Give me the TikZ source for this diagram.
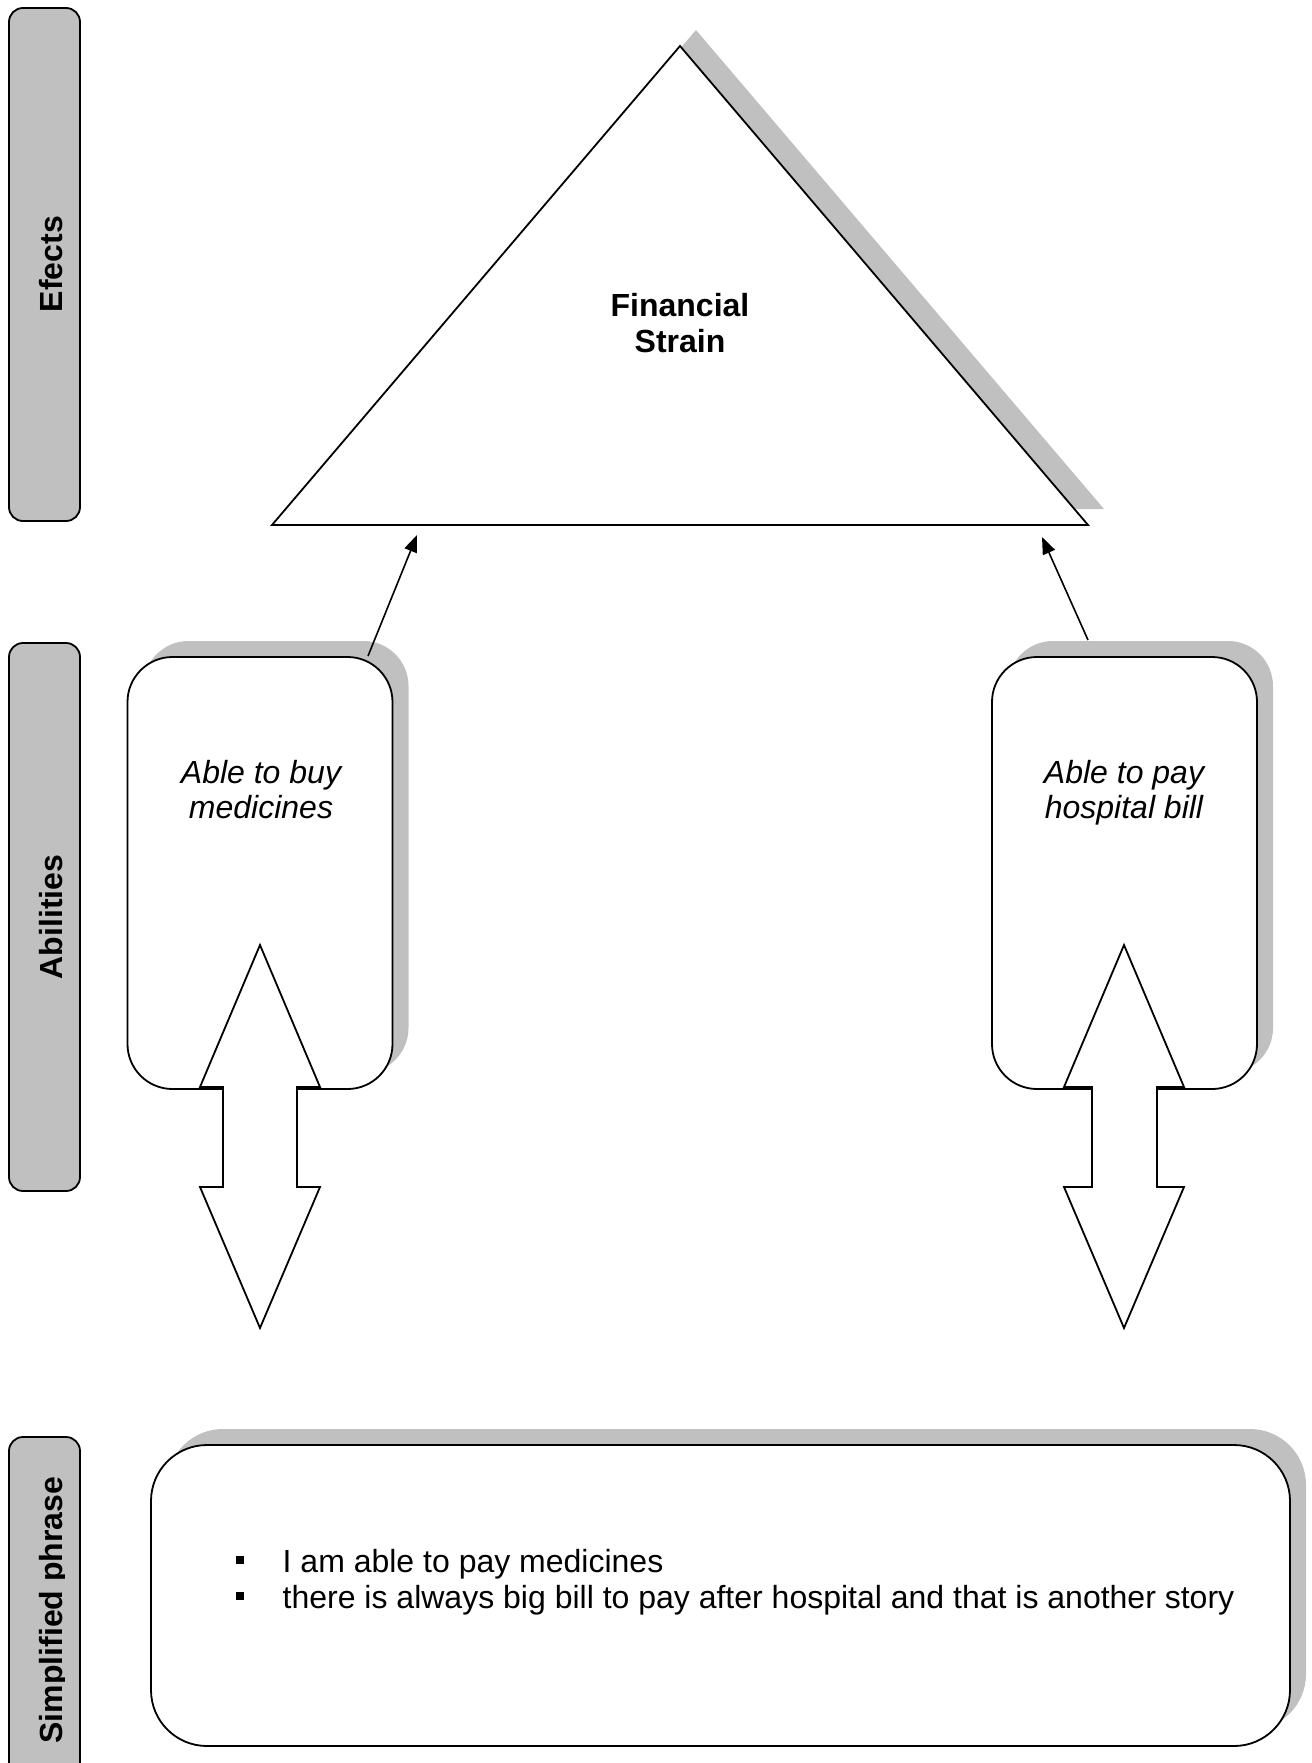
\documentclass[tikz,border=0pt]{standalone}
\usepackage{fontspec}
\setmainfont{Liberation Sans}
\usetikzlibrary{arrows.meta,shadows}
\definecolor{panelgray}{HTML}{C0C0C0}
\newcommand\listbullet{\rule[8.5bp]{8bp}{8bp}\hspace{39bp}}
\begin{document}
\begin{tikzpicture}[x=1bp,y=-1bp,
  outline/.style={draw=black,line width=1.8bp},
  sidebar/.style={outline,fill=panelgray,rounded corners=14bp,minimum width=71bp,inner sep=0pt},
  sidelabel/.style={font=\fontsize{32bp}{36bp}\selectfont\bfseries,rotate=90,anchor=base,inner sep=0pt},
  shadowed/.style={drop shadow={shadow xshift=16bp,shadow yshift=16bp,fill=panelgray,opacity=1}},
  ability/.style={outline,fill=white,rounded corners=45bp,minimum width=265bp,minimum height=432bp,inner sep=0pt,shadowed},
  phrasebox/.style={outline,fill=white,rounded corners=56bp,minimum width=1139bp,minimum height=301bp,inner sep=0pt,shadowed},
  hollowarrow/.style={outline,fill=white,line join=miter},
  connector/.style={draw=black,line width=1.6bp,-{Triangle[length=17bp,width=13bp]}},
  boldtext/.style={font=\fontsize{32bp}{36bp}\selectfont\bfseries,align=center,inner sep=0pt},
  itext/.style={font=\fontsize{32bp}{35bp}\selectfont\itshape,align=center,inner sep=0pt,text depth=0pt},
  listitem/.style={font=\fontsize{32bp}{36bp}\selectfont,anchor=base west,inner sep=0pt}
]
\useasboundingbox (0,0) rectangle (1312,1763);

% row headers on the left
\node[sidebar,minimum height=513bp] (efbar) at (44.5,264.5) {};
\node[sidebar,minimum height=548bp] (abbar) at (44.5,917) {};
\node[sidebar,minimum height=363bp] (spbar) at (44.5,1618.5) {};
\node[sidelabel] (eflabel) at (62,264) {Efects};
\node[sidelabel] (ablabel) at (62,917) {Abilities};
\begin{scope}
  \clip (9,1437) rectangle (64.5,1763);
  \node[sidelabel] (splabel) at (62,1610) {Simplified phrase};
\end{scope}

% effect triangle with its shadow
\fill[panelgray] (696,30) -- (288,509) -- (1104,509) -- cycle;
\draw[outline,fill=white,line join=miter] (680,46) coordinate (apex)
  -- (272,525) coordinate (baseleft) -- (1088,525) coordinate (baseright) -- cycle;
\node[boldtext] (strain) at (680,323) {Financial\\Strain};

% ability boxes
\node[ability] (buy) at (260,873) {};
\node[ability] (pay) at (1124.5,873) {};
\node[itext] (buytext) at (261,789) {Able to buy\\medicines};
\node[itext] (paytext) at (1124,789) {Able to pay\\hospital bill};

% up-down block arrows
\begin{scope}[shift={(260,0)}]
  \draw[hollowarrow] (0,945) -- (-60,1087) -- (-37,1087) -- (-37,1187) -- (-60,1187)
    -- (0,1328) -- (60,1187) -- (37,1187) -- (37,1087) -- (60,1087) -- cycle;
\end{scope}
\begin{scope}[shift={(1124,0)}]
  \draw[hollowarrow] (0,945) -- (-60,1087) -- (-32,1087) -- (-32,1187) -- (-60,1187)
    -- (0,1328) -- (60,1187) -- (33,1187) -- (33,1087) -- (60,1087) -- cycle;
\end{scope}

% links from the abilities to the effect
\coordinate (buytop) at (368,656);
\coordinate (paytop) at (1088,640);
\coordinate (effleft) at (417,535);
\coordinate (effright) at (1042,537);
\draw[connector] (buytop) -- (effleft);
\draw[connector] (paytop) -- (effright);

% simplified phrase box
\node[phrasebox] (phrase) at (720.5,1595.5) {};
\node[listitem] (item1) at (235.5,1572) {\listbullet I am able to pay medicines};
\node[listitem] (item2) at (235.5,1608) {\listbullet there is always big bill to pay after hospital and that is another story};
\end{tikzpicture}
\end{document}
